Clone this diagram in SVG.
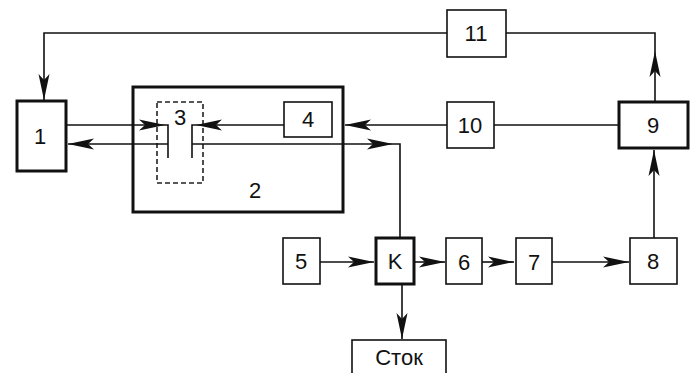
<svg xmlns="http://www.w3.org/2000/svg" width="697" height="373" viewBox="0 0 697 373">
<style>
.thin{fill:#fff;stroke:#111;stroke-width:1.6}
.thick{fill:#fff;stroke:#111;stroke-width:3}
.dash{fill:none;stroke:#222;stroke-width:1.6;stroke-dasharray:5 3}
.lbl{font-family:"Liberation Sans",Arial,sans-serif;font-size:22px;fill:#111;text-anchor:middle}
.c path{fill:none;stroke:#111;stroke-width:1.6}
</style>
<defs>
<marker id="ah" markerUnits="userSpaceOnUse" viewBox="-26 -6 28 12" refX="0" refY="0" markerWidth="28" markerHeight="12" orient="auto">
<path d="M0,0 L-26,-5.5 L-20,0 L-26,5.5 Z" fill="#111"/>
</marker>
</defs>
<rect width="697" height="373" fill="#fff"/>
<g id="n2"><rect class="thick" x="133" y="87" width="210" height="125"/><text class="lbl" x="255" y="198">2</text></g>
<g id="n3"><rect class="dash" x="157" y="102" width="46" height="81"/><text class="lbl" x="180" y="125">3</text></g>
<g id="n1"><rect class="thick" x="17" y="101" width="49" height="70"/><text class="lbl" x="40" y="144">1</text></g>
<g id="n4"><rect class="thin" x="284" y="102" width="48" height="35"/><text class="lbl" x="308" y="127">4</text></g>
<g id="n10"><rect class="thin" x="447" y="102" width="47" height="46"/><text class="lbl" x="470" y="133">10</text></g>
<g id="n9"><rect class="thick" x="619" y="102" width="69" height="46"/><text class="lbl" x="653" y="133">9</text></g>
<g id="n11"><rect class="thin" x="447" y="10" width="59" height="47"/><text class="lbl" x="476" y="41">11</text></g>
<g id="n5"><rect class="thin" x="283" y="238" width="37" height="46"/><text class="lbl" x="301" y="269">5</text></g>
<g id="nK"><rect class="thick" x="376" y="238" width="38" height="46"/><text class="lbl" x="395" y="269">K</text></g>
<g id="n6"><rect class="thin" x="446" y="238" width="36" height="46"/><text class="lbl" x="464" y="270">6</text></g>
<g id="n7"><rect class="thin" x="516" y="238" width="36" height="46"/><text class="lbl" x="534" y="270">7</text></g>
<g id="n8"><rect class="thin" x="630" y="238" width="47" height="46"/><text class="lbl" x="653" y="269">8</text></g>
<g id="nStock"><rect class="thin" x="352" y="340" width="94" height="45"/><text class="lbl" x="399" y="365">Сток</text></g>
<g class="c" id="connectors">
<path d="M447,33 H44 V100" marker-end="url(#ah)"/>
<path d="M506,33 H655 V51"/>
<path d="M655,102 V51" marker-end="url(#ah)"/>
<path d="M66,125 H165" marker-end="url(#ah)"/>
<path d="M165,125 H168 V158"/>
<path d="M284,125 H196" marker-end="url(#ah)"/>
<path d="M196,125 H192 V158"/>
<path d="M168,144 H68" marker-end="url(#ah)"/>
<path d="M192,144 H393" marker-end="url(#ah)"/>
<path d="M393,144 H400 V238"/>
<path d="M447,125 H345" marker-end="url(#ah)"/>
<path d="M494,125 H619"/>
<path d="M654,238 V150" marker-end="url(#ah)"/>
<path d="M320,262 H374" marker-end="url(#ah)"/>
<path d="M414,262 H445" marker-end="url(#ah)"/>
<path d="M482,262 H514" marker-end="url(#ah)"/>
<path d="M552,262 H629" marker-end="url(#ah)"/>
<path d="M402,284 V339" marker-end="url(#ah)"/>
</g>
</svg>
